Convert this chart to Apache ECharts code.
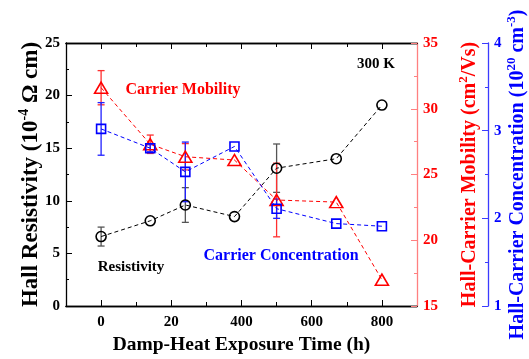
<!DOCTYPE html>
<html>
<head>
<meta charset="utf-8">
<script src="https://cdn.jsdelivr.net/npm/echarts@6.0.0/dist/echarts.min.js"></script>
<style>
  html, body { margin: 0; padding: 0; background: #fff; }
  #main { width: 529px; height: 359px; }
</style>
</head>
<body>
<div id="main"></div>
<script>
// exposure time (h)
const hours = [0, 140, 240, 380, 500, 670, 800];

// Hall resistivity (1e-4 ohm cm), with +/- error
const resistivity = [6.6, 8.1, 9.6, 8.5, 13.1, 14.0, 19.1];
const resistivityErr = [0.9, 0, 1.65, 0, 2.3, 0, 0];

// Hall-carrier mobility (cm2/Vs)
const mobility = [31.6, 27.3, 26.35, 26.1, 23.06, 22.9, 17.0];
const mobilityErr = [1.3, 0.7, 1.0, 0, 2.8, 0, 0];

// Hall-carrier concentration (1e20 cm-3)
const concentration = [3.02, 2.80, 2.53, 2.82, 2.11, 1.94, 1.91];
const concentrationErr = [0.3, 0.04, 0.34, 0, 0.11, 0, 0];

// x axis ticks; the original figure prints "20" under 200
const xMajorTicks = [0, 200, 400, 600, 800];
const xMajorLabels = ['0', '20', '400', '600', '800'];
const xMinorTicks = [100, 300, 500, 700];

const FONT = "'Liberation Serif', 'Times New Roman', serif";
const RED = '#ff0000';
const BLUE = '#0000ff';

function pairs(ys) {
  return hours.map((h, i) => [h, ys[i]]);
}

function errorBars(ys, errs, yAxisIndex, color) {
  const data = [];
  hours.forEach((h, i) => {
    if (errs[i] > 0) data.push([h, ys[i] - errs[i], ys[i] + errs[i]]);
  });
  return {
    type: 'custom',
    xAxisIndex: 0,
    yAxisIndex: yAxisIndex,
    data: data,
    encode: { x: 0, y: [1, 2] },
    silent: true,
    z: 1,
    renderItem: function (params, api) {
      const lo = api.coord([api.value(0), api.value(1)]);
      const hi = api.coord([api.value(0), api.value(2)]);
      const w = 3.5;
      const st = { stroke: color, lineWidth: 1.3 };
      return {
        type: 'group',
        children: [
          { type: 'line', shape: { x1: lo[0], y1: lo[1], x2: hi[0], y2: hi[1] }, style: st },
          { type: 'line', shape: { x1: lo[0] - w, y1: lo[1], x2: lo[0] + w, y2: lo[1] }, style: st },
          { type: 'line', shape: { x1: hi[0] - w, y1: hi[1], x2: hi[0] + w, y2: hi[1] }, style: st }
        ]
      };
    }
  };
}

function xAxisBase(position, ticks, len, withLabels) {
  return {
    type: 'value',
    position: position,
    min: -100,
    max: 900,
    interval: 100,
    axisLine: { show: true, onZero: false, lineStyle: { color: '#000', width: 1.3 } },
    axisTick: { show: true, inside: true, length: len, customValues: ticks, lineStyle: { color: '#000', width: 1 } },
    axisLabel: withLabels ? {
      show: true,
      customValues: xMajorTicks,
      margin: 9,
      fontFamily: FONT, fontSize: 15, fontWeight: 'bold', color: '#000',
      formatter: v => xMajorLabels[xMajorTicks.indexOf(v)]
    } : { show: false },
    splitLine: { show: false }
  };
}

const bottomMain = xAxisBase('bottom', xMajorTicks, 6, true);
bottomMain.name = 'Damp-Heat Exposure Time (h)';
bottomMain.nameLocation = 'middle';
bottomMain.nameGap = 29;
bottomMain.nameTextStyle = { fontFamily: FONT, fontSize: 19.5, fontWeight: 'bold', color: '#000' };

function yName(color, size, supSize) {
  return {
    color: color,
    rich: {
      b: { fontFamily: FONT, fontSize: size, fontWeight: 'bold', color: color, lineHeight: size + 6 },
      s: { fontFamily: FONT, fontSize: supSize, fontWeight: 'bold', color: color, verticalAlign: 'top', lineHeight: supSize }
    }
  };
}

function yAxisBase(opts) {
  return Object.assign({
    type: 'value',
    nameLocation: 'middle',
    nameMoveOverlap: false,
    axisTick: { show: true, inside: true, length: 6, lineStyle: { color: opts.lineColor, width: 1 } },
    minorTick: { show: true, splitNumber: 2, length: 3, lineStyle: { color: opts.lineColor, width: 1 } },
    axisLine: { show: true, onZero: false, lineStyle: { color: opts.lineColor, width: 1.3 } },
    axisLabel: { margin: 6, fontFamily: FONT, fontSize: 15, fontWeight: 'bold', color: opts.labelColor },
    splitLine: { show: false },
    minorSplitLine: { show: false }
  }, opts.extra);
}

const option = {
  animation: false,
  backgroundColor: '#fff',
  grid: { left: 66, right: 112, top: 43, bottom: 53, containLabel: false, outerBoundsMode: 'none' },
  xAxis: [
    bottomMain,
    xAxisBase('bottom', xMinorTicks, 4, false),
    xAxisBase('top', xMajorTicks, 6, false),
    xAxisBase('top', xMinorTicks, 4, false)
  ],
  yAxis: [
    yAxisBase({
      lineColor: '#000', labelColor: '#000',
      extra: {
        position: 'left', min: 0, max: 25, interval: 5,
        name: '{b|Hall Resistivity (10}{s|-4}{b| Ω cm)}',
        nameGap: 20,
        nameTextStyle: yName('#000', 23, 14)
      }
    }),
    yAxisBase({
      lineColor: '#ff8080', labelColor: RED,
      extra: {
        position: 'right', offset: 0, min: 15, max: 35, interval: 5,
        name: '{b|Hall-Carrier Mobility (cm}{s|2}{b|/Vs)}',
        nameGap: 40,
        nameTextStyle: yName(RED, 20, 13)
      }
    }),
    yAxisBase({
      lineColor: '#3b3bff', labelColor: BLUE,
      extra: {
        position: 'right', offset: 71, min: 1, max: 4, interval: 1,
        name: '{b|Hall-Carrier Concentration (10}{s|20}{b| cm}{s|-3}{b|)}',
        nameGap: 17,
        nameTextStyle: yName(BLUE, 20, 13)
      }
    })
  ],
  graphic: [
    { type: 'text', x: 183, y: 90, style: { text: 'Carrier Mobility', fill: RED, font: 'bold 16px ' + FONT, align: 'center', verticalAlign: 'middle' } },
    { type: 'text', x: 376, y: 64, style: { text: '300 K', fill: '#000', font: 'bold 15px ' + FONT, align: 'center', verticalAlign: 'middle' } },
    { type: 'text', x: 131, y: 267, style: { text: 'Resistivity', fill: '#000', font: 'bold 15px ' + FONT, align: 'center', verticalAlign: 'middle' } },
    { type: 'text', x: 281, y: 256, style: { text: 'Carrier Concentration', fill: BLUE, font: 'bold 16px ' + FONT, align: 'center', verticalAlign: 'middle' } }
  ],
  series: [
    errorBars(resistivity, resistivityErr, 0, '#555'),
    errorBars(mobility, mobilityErr, 1, '#ff3030'),
    errorBars(concentration, concentrationErr, 2, '#2020ff'),
    {
      type: 'line', name: 'Resistivity', xAxisIndex: 0, yAxisIndex: 0,
      data: pairs(resistivity),
      symbol: 'circle', symbolSize: 10,
      lineStyle: { color: '#000', width: 1, type: [4, 3] },
      itemStyle: { color: 'rgba(0,0,0,0)', borderColor: '#000', borderWidth: 1.6 },
      z: 3
    },
    {
      type: 'line', name: 'Carrier Mobility', xAxisIndex: 0, yAxisIndex: 1,
      data: pairs(mobility),
      symbol: 'triangle', symbolSize: [13, 11],
      lineStyle: { color: RED, width: 1, type: [4, 3] },
      itemStyle: { color: 'rgba(0,0,0,0)', borderColor: RED, borderWidth: 1.6 },
      z: 3
    },
    {
      type: 'line', name: 'Carrier Concentration', xAxisIndex: 0, yAxisIndex: 2,
      data: pairs(concentration),
      symbol: 'rect', symbolSize: 9,
      lineStyle: { color: BLUE, width: 1, type: [4, 3] },
      itemStyle: { color: 'rgba(0,0,0,0)', borderColor: BLUE, borderWidth: 1.6 },
      z: 3
    }
  ]
};

const chart = echarts.init(document.getElementById('main'), null, { renderer: 'canvas' });
chart.setOption(option);
</script>
</body>
</html>
